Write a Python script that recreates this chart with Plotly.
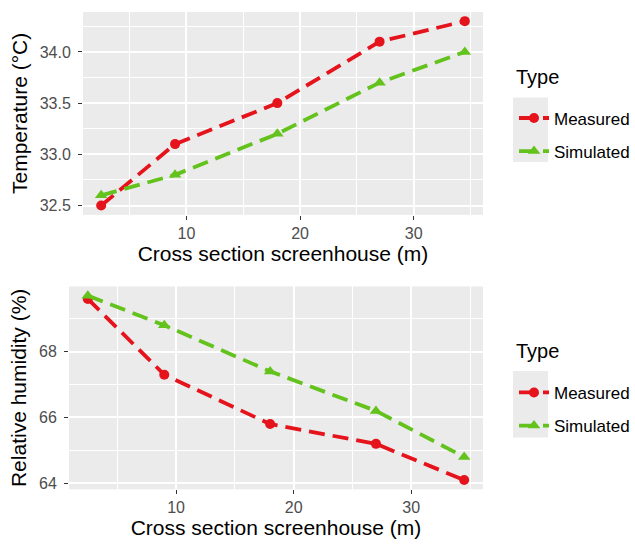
import plotly.graph_objects as go

# ---- data ----
positions = [2.5, 9, 18, 27, 34.5]
temp_measured = [32.5, 33.1, 33.5, 34.1, 34.3]
temp_simulated = [32.6, 32.8, 33.2, 33.7, 34.0]
rh_measured = [69.6, 67.3, 65.8, 65.2, 64.1]
rh_simulated = [69.7, 68.8, 67.4, 66.2, 64.8]
series_names = ["Measured", "Simulated"]
x_title = "Cross section screenhouse (m)"
y_title_top = "Temperature (°C)"
y_title_bottom = "Relative humidity (%)"
legend_title = "Type"

W, H = 635, 544
RED = "#E5131B"
GREEN = "#63C21C"
FONT = "Liberation Sans, Arial, sans-serif"
DASH = "16px,8px"

fig = go.Figure()

def add_pair(ys_m, ys_s, xa, ya, leg):
    fig.add_trace(go.Scatter(
        x=positions, y=ys_m, name=series_names[0], mode="lines+markers",
        line=dict(color=RED, width=3.8, dash=DASH),
        marker=dict(symbol="circle", size=10, color=RED),
        xaxis=xa, yaxis=ya, legend=leg, legendgroup=leg + "m"))
    fig.add_trace(go.Scatter(
        x=positions, y=ys_s, name=series_names[1], mode="lines+markers",
        line=dict(color=GREEN, width=3.8, dash=DASH),
        marker=dict(symbol="triangle-up", size=11, color=GREEN),
        xaxis=xa, yaxis=ya, legend=leg, legendgroup=leg + "s"))

add_pair(temp_measured, temp_simulated, "x", "y", "legend")
add_pair(rh_measured, rh_simulated, "x2", "y2", "legend2")

def px_x(p):
    return p / W

def px_y(p):
    return 1 - p / H

tick_font = dict(family=FONT, size=16, color="#4D4D4D")
title_font = dict(family=FONT, size=21, color="#000000")

common_x = dict(
    range=[0.9, 36.1], dtick=10, tick0=0, showgrid=True, gridcolor="white", gridwidth=1.6,
    zeroline=False, ticks="outside", ticklen=4, tickwidth=1.2, tickcolor="#333333",
    tickfont=tick_font, showline=False,
    minor=dict(showgrid=True, gridcolor="white", gridwidth=0.7, dtick=5, tick0=0),
    title=dict(text=x_title, font=title_font, standoff=4),
)
common_y = dict(
    showgrid=True, gridcolor="white", gridwidth=1.6, zeroline=False,
    ticks="outside", ticklen=4, tickwidth=1.2, tickcolor="#333333",
    tickfont=tick_font, showline=False, ticklabelstandoff=4,
)

legend_common = dict(
    xanchor="left", yanchor="top",
    font=dict(family=FONT, size=17, color="#000"),
    bgcolor="rgba(0,0,0,0)", traceorder="grouped", tracegroupgap=8, itemwidth=30,
)

fig.update_layout(
    width=W, height=H,
    margin=dict(l=0, r=0, t=0, b=0),
    paper_bgcolor="white", plot_bgcolor="#EBEBEB",
    font=dict(family=FONT),
    xaxis=dict(domain=[px_x(83), px_x(483)], anchor="y", **common_x),
    xaxis2=dict(domain=[px_x(69), px_x(483)], anchor="y2", **common_x),
    yaxis=dict(domain=[px_y(216), px_y(12)], anchor="x", range=[32.41, 34.39],
               dtick=0.5, tick0=32.5, tickformat=".1f",
               minor=dict(showgrid=True, gridcolor="white", gridwidth=0.7, dtick=0.25, tick0=32.25),
               title=dict(text=y_title_top, font=title_font, standoff=6), **common_y),
    yaxis2=dict(domain=[px_y(492), px_y(288)], anchor="x2", range=[63.82, 69.98],
                dtick=2, tick0=64,
                minor=dict(showgrid=True, gridcolor="white", gridwidth=0.7, dtick=1, tick0=63),
                title=dict(text=y_title_bottom, font=title_font, standoff=6), **common_y),
    legend=dict(x=px_x(514), y=px_y(101), **legend_common),
    legend2=dict(x=px_x(514), y=px_y(377), **legend_common),
    annotations=[
        dict(text=legend_title, xref="paper", yref="paper", x=px_x(514), y=px_y(77),
             xanchor="left", yanchor="middle", showarrow=False,
             font=dict(family=FONT, size=20, color="#000")),
        dict(text=legend_title, xref="paper", yref="paper", x=px_x(514), y=px_y(353),
             xanchor="left", yanchor="middle", showarrow=False,
             font=dict(family=FONT, size=20, color="#000")),
    ],
    shapes=[
        dict(type="rect", xref="paper", yref="paper", layer="below",
             x0=px_x(513), x1=px_x(548), y0=px_y(163), y1=px_y(98),
             fillcolor="#EBEBEB", line=dict(width=0)),
        dict(type="rect", xref="paper", yref="paper", layer="below",
             x0=px_x(513), x1=px_x(548), y0=px_y(440), y1=px_y(373),
             fillcolor="#EBEBEB", line=dict(width=0)),
    ],
)

fig.write_html("out.html", config={"displayModeBar": False},
               post_script="document.body.style.margin='0';")
